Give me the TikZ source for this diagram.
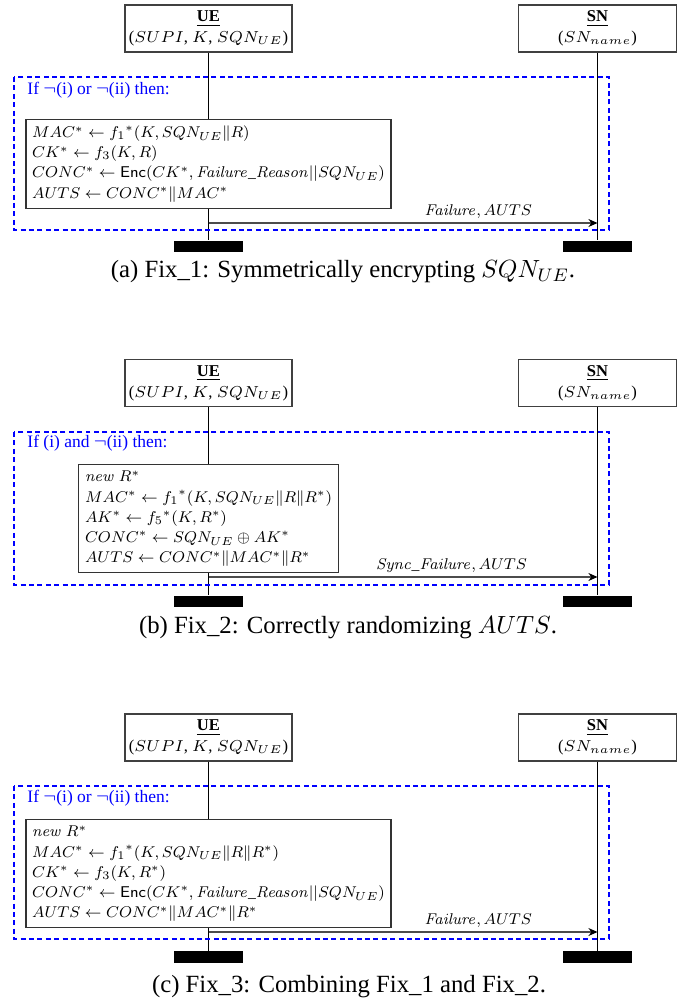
\documentclass[tikz,border=0pt]{standalone}
\usepackage[no-math]{fontspec}
\setmainfont{Liberation Serif}
\usetikzlibrary{arrows.meta,positioning}

\newcommand\diagfont{\fontsize{7.3}{9.25}\selectfont}
\newcommand\calcfont{\fontsize{8}{10.35}\selectfont}
\newcommand\captfont{\fontsize{10.9}{13}\selectfont}

\tikzset{
	actor/.style={draw=black!75, line width=0.6pt, fill=white, minimum height=20.7pt, align=center, inner sep=1pt, font=\diagfont},
	calcbox/.style={draw=black!80, line width=0.6pt, fill=white, align=left, inner sep=3.2pt, font=\calcfont, scale=0.86, transform shape},
	endbar/.style={fill=black, minimum width=30.8pt, minimum height=5pt, inner sep=0pt},
	life/.style={line width=0.45pt},
	msg/.style={draw=black!70, line width=0.6pt, -{Stealth[length=4pt, width=3.5pt, black]}},
	msgtext/.style={above left, inner sep=2pt, font=\calcfont, scale=0.86, transform shape},
	guard/.style={draw=blue, line width=0.8pt, dash pattern=on 2.2pt off 1.5pt},
	guardtext/.style={text=blue, font=\fontsize{7.7}{9.5}\selectfont, anchor=west, inner sep=0pt},
	capt/.style={font=\captfont, inner sep=0pt}
}

\begin{document}
\begin{tikzpicture}[x=0.4405pt, y=-0.4405pt]
		%%%%% START %%%%%
		\useasboundingbox (0,0) rectangle (686,1006);
		
		%%%%% (a) Fix_1 %%%%%
		\node[actor, minimum width=73.6pt] (ueA) at (208.5,28.5) {\underline{\textbf{UE}}\\($SUPI$, $K$, $SQN_{UE}$)};
		\node[actor, minimum width=69.6pt] (snA) at (597.5,28.5) {\underline{\textbf{SN}}\\($SN_{name}$)};
		\node[endbar] (ueEndA) at (208.5,246.5) {};
		\node[endbar] (snEndA) at (597.5,246.5) {};
		\draw[life] (ueA) -- (ueEndA);
		\draw[life] (snA) -- (snEndA);
		
		\draw[guard] (14,77) rectangle (609,230);
		\node[guardtext] (condA) at (27,90) {If $\neg$(i) or $\neg$(ii) then:};
		
		\node[calcbox, anchor=north] (calcA) at (208.5,119) {$MAC^* \leftarrow {f_1}^*(K, SQN_{UE}\|R)$\\
			$CK^* \leftarrow f_3(K, R)$\\
			$CONC^* \leftarrow \textsf{Enc}(CK^*, \mathit{Failure\_Reason}||SQN_{UE})$\\
			$AUTS \leftarrow CONC^*\|MAC^*$};
		
		\coordinate (msgA) at (0,223);
		\draw[msg] (ueA |- msgA) -- node[msgtext, pos=0.843] {$\mathit{Failure}, AUTS$} (snA |- msgA);
		
		\node[capt] (capA) at (343,272) {(a) Fix\_1: Symmetrically encrypting $SQN_{UE}$.};
		
		%%%%% (b) Fix_2 %%%%%
		\node[actor, minimum width=73.6pt] (ueB) at (208.5,383) {\underline{\textbf{UE}}\\($SUPI$, $K$, $SQN_{UE}$)};
		\node[actor, minimum width=69.6pt] (snB) at (597.5,383) {\underline{\textbf{SN}}\\($SN_{name}$)};
		\node[endbar] (ueEndB) at (208.5,601.5) {};
		\node[endbar] (snEndB) at (597.5,601.5) {};
		\draw[life] (ueB) -- (ueEndB);
		\draw[life] (snB) -- (snEndB);
		
		\draw[guard] (14,432) rectangle (609,585);
		\node[guardtext] (condB) at (27,443) {If (i) and $\neg$(ii) then:};
		
		\node[calcbox, anchor=north] (calcB) at (208.5,464) {$\mathit{new}\ R^*$\\
			$MAC^* \leftarrow {f_1}^*(K, SQN_{UE}\|R\|R^*)$\\
			$AK^* \leftarrow {f_5}^*(K, R^*)$\\
			$CONC^* \leftarrow SQN_{UE} \oplus AK^*$\\
			$AUTS \leftarrow CONC^*\|MAC^*\|R^*$};
		
		\coordinate (msgB) at (0,577);
		\draw[msg] (ueB |- msgB) -- node[msgtext, pos=0.83] {$\mathit{Sync\_Failure}, AUTS$} (snB |- msgB);
		
		\node[capt] (capB) at (348,628) {(b) Fix\_2: Correctly randomizing $AUTS$.};
		
		%%%%% (c) Fix_3 %%%%%
		\node[actor, minimum width=73.6pt] (ueC) at (208.5,737.5) {\underline{\textbf{UE}}\\($SUPI$, $K$, $SQN_{UE}$)};
		\node[actor, minimum width=69.6pt] (snC) at (597.5,737.5) {\underline{\textbf{SN}}\\($SN_{name}$)};
		\node[endbar] (ueEndC) at (208.5,957) {};
		\node[endbar] (snEndC) at (597.5,957) {};
		\draw[life] (ueC) -- (ueEndC);
		\draw[life] (snC) -- (snEndC);
		
		\draw[guard] (14,786) rectangle (609,939);
		\node[guardtext] (condC) at (27,798) {If $\neg$(i) or $\neg$(ii) then:};
		
		\node[calcbox, anchor=north] (calcC) at (208.5,819) {$\mathit{new}\ R^*$\\
			$MAC^* \leftarrow {f_1}^*(K, SQN_{UE}\|R\|R^*)$\\
			$CK^* \leftarrow f_3(K, R^*)$\\
			$CONC^* \leftarrow \textsf{Enc}(CK^*, \mathit{Failure\_Reason}||SQN_{UE})$\\
			$AUTS \leftarrow CONC^*\|MAC^*\|R^*$};
		
		\coordinate (msgC) at (0,932);
		\draw[msg] (ueC |- msgC) -- node[msgtext, pos=0.843] {$\mathit{Failure}, AUTS$} (snC |- msgC);
		
		\node[capt] (capC) at (349,987) {(c) Fix\_3: Combining Fix\_1 and Fix\_2.};
		
		%%%%% END %%%%%
	\end{tikzpicture}
\end{document}
